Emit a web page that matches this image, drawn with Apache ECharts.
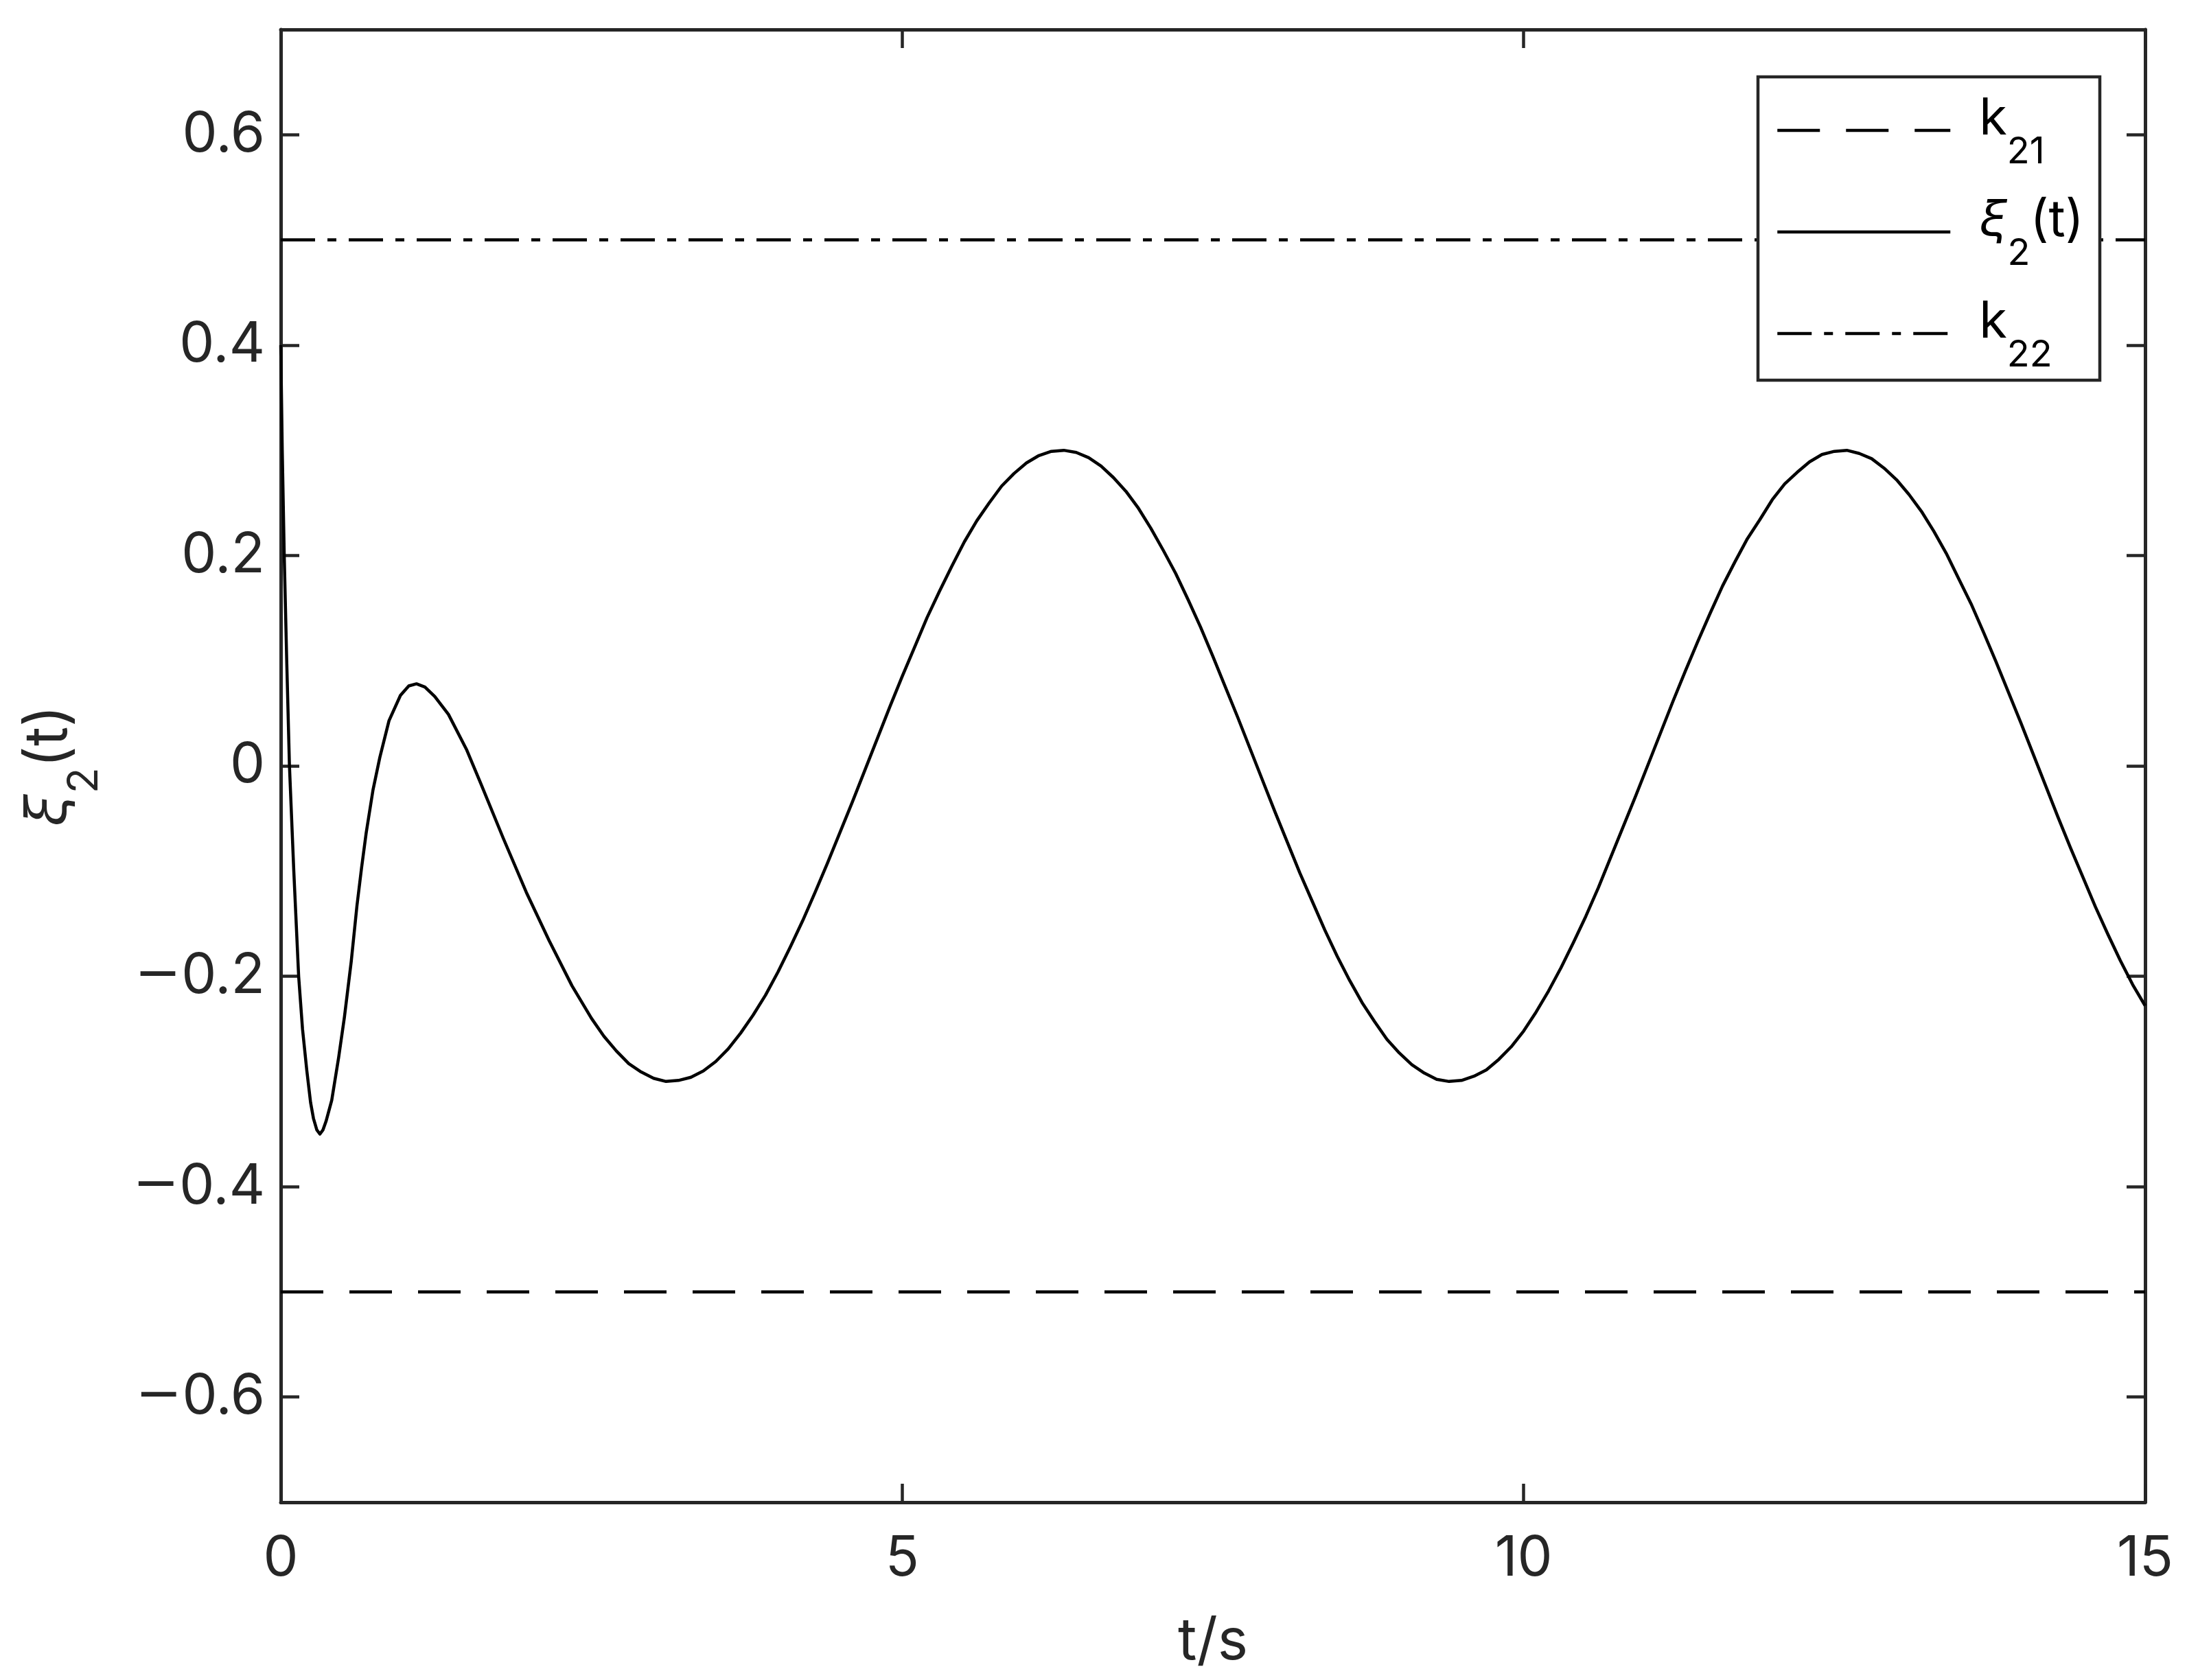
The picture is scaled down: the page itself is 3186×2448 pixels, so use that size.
<!DOCTYPE html>
<html>
<head>
<meta charset="utf-8">
<script src="https://cdn.jsdelivr.net/npm/echarts@6/dist/echarts.min.js"></script>
<style>html,body{margin:0;padding:0;background:#fff;}#c{width:3186px;height:2448px;}</style>
</head>
<body>
<div id="c"></div>
<script>
// ---- data ----
const tValues = [0, 0.012, 0.028, 0.048, 0.07, 0.105, 0.144, 0.175, 0.21, 0.24, 0.263, 0.29, 0.315, 0.34, 0.364, 0.41, 0.466, 0.512, 0.567, 0.613, 0.65, 0.687, 0.742, 0.797, 0.871, 0.963, 1.03, 1.092, 1.16, 1.239, 1.349, 1.497, 1.607, 1.791, 1.975, 2.159, 2.343, 2.5,
  2.6, 2.7, 2.8, 2.9, 3.0, 3.1, 3.2, 3.3, 3.4, 3.5, 3.6, 3.7, 3.8, 3.9, 4.0, 4.1, 4.2, 4.3, 4.4, 4.5, 4.6, 4.7, 4.8, 4.9,
  5.0, 5.1, 5.2, 5.3, 5.4, 5.5, 5.6, 5.7, 5.8, 5.9, 6.0, 6.1, 6.2, 6.3, 6.4, 6.5, 6.6, 6.7, 6.8, 6.9,
  7.0, 7.1, 7.2, 7.3, 7.4, 7.5, 7.6, 7.7, 7.8, 7.9, 8.0, 8.1, 8.2, 8.3, 8.4, 8.5, 8.6, 8.7, 8.8, 8.9,
  9.0, 9.1, 9.2, 9.3, 9.4, 9.5, 9.6, 9.7, 9.8, 9.9, 10.0, 10.1, 10.2, 10.3, 10.4, 10.5, 10.6, 10.7, 10.8, 10.9,
  11.0, 11.1, 11.2, 11.3, 11.4, 11.5, 11.6, 11.7, 11.8, 11.9, 12.0, 12.1, 12.2, 12.3, 12.4, 12.5, 12.6, 12.7, 12.8, 12.9,
  13.0, 13.1, 13.2, 13.3, 13.4, 13.5, 13.6, 13.7, 13.8, 13.9, 14.0, 14.1, 14.2, 14.3, 14.4, 14.5, 14.6, 14.7, 14.8, 14.9, 15.0];
const xiValues = [0.400, 0.30, 0.20, 0.10, 0.00, -0.10, -0.20, -0.25, -0.29, -0.32, -0.335, -0.346, -0.350, -0.346, -0.338, -0.318, -0.277, -0.239, -0.186, -0.133, -0.097, -0.064, -0.023, 0.008, 0.043, 0.067, 0.076, 0.078, 0.075, 0.066, 0.049, 0.015, -0.016, -0.069, -0.120, -0.166, -0.209, -0.240,
  -0.257, -0.271, -0.283, -0.291, -0.297, -0.300, -0.299, -0.296, -0.290, -0.281, -0.269, -0.254, -0.237, -0.218, -0.196, -0.172, -0.147, -0.120, -0.092, -0.063, -0.034, -0.004, 0.026, 0.056,
  0.085, 0.113, 0.141, 0.166, 0.190, 0.213, 0.233, 0.250, 0.266, 0.278, 0.288, 0.295, 0.299, 0.300, 0.298, 0.293, 0.285, 0.274, 0.261, 0.245,
  0.226, 0.205, 0.183, 0.158, 0.132, 0.104, 0.075, 0.046, 0.016, -0.014, -0.044, -0.073, -0.102, -0.129, -0.156, -0.181, -0.204, -0.225, -0.243, -0.260,
  -0.273, -0.284, -0.292, -0.298, -0.300, -0.299, -0.295, -0.289, -0.279, -0.267, -0.252, -0.234, -0.214, -0.192, -0.168, -0.143, -0.116, -0.087, -0.058, -0.029,
  0.001, 0.031, 0.061, 0.090, 0.118, 0.145, 0.171, 0.194, 0.216, 0.234, 0.253, 0.268, 0.279, 0.289, 0.296, 0.299, 0.300, 0.297, 0.292, 0.283,
  0.272, 0.258, 0.242, 0.223, 0.202, 0.178, 0.154, 0.127, 0.099, 0.070, 0.041, 0.011, -0.019, -0.049, -0.078, -0.106, -0.134, -0.160, -0.185, -0.208, -0.228];
const k21Value = -0.5;
const k22Value = 0.5;
const xRange = [0, 15];
const yRange = [-0.7, 0.7];
const xTicks = [0, 5, 10, 15];
const yTicks = [-0.6, -0.4, -0.2, 0, 0.2, 0.4, 0.6];
const seriesNames = ['k21', 'xi2', 'k22'];

// ---- styling ----
const FONT = 'Inter';
const AX = '#262626';
const LW = 4.5;
const DASH = [62, 38];
const DASHDOT = [50, 18, 13, 18];

function fmtY(v) {
  if (Math.abs(v) < 1e-9) return '0';
  const s = Math.abs(v).toFixed(1);
  return (v < 0 ? '{n|\u2212}' : '') + s;
}

const xiData = tValues.map((t, i) => [t, xiValues[i]]);

const chart = echarts.init(document.getElementById('c'), null, {renderer: 'canvas'});

const axisCommon = {
  axisLine: {show: true, onZero: false, lineStyle: {color: AX, width: 5}},
  axisTick: {show: true, inside: true, length: 27, lineStyle: {color: AX, width: 4.5}},
  splitLine: {show: false}
};

const legendRich = {
  m: {fontFamily: FONT, fontSize: 74, color: '#000', lineHeight: 78, padding: [0, 0, 38, 0], verticalAlign: 'bottom'},
  mi: {fontFamily: FONT, fontSize: 74, fontStyle: 'italic', color: '#000', lineHeight: 78, padding: [0, 0, 38, 0], verticalAlign: 'bottom'},
  s: {fontFamily: FONT, fontSize: 54, color: '#000', lineHeight: 58, verticalAlign: 'bottom'}
};

const option = {
  backgroundColor: '#fff',
  animation: false,
  grid: {left: 409, top: 43, width: 2716, height: 2146, containLabel: false},
  xAxis: [
    Object.assign({}, axisCommon, {
      type: 'value', position: 'bottom', min: xRange[0], max: xRange[1], interval: 5,
      axisTick: Object.assign({}, axisCommon.axisTick, {customValues: xTicks}),
      axisLabel: {show: true, customValues: xTicks, margin: 42, fontFamily: FONT, fontSize: 81, color: AX},
      name: 't/s', nameLocation: 'middle', nameGap: 162,
      nameTextStyle: {fontFamily: FONT, fontSize: 84, color: AX}
    }),
    Object.assign({}, axisCommon, {
      type: 'value', position: 'top', min: xRange[0], max: xRange[1], interval: 5,
      axisTick: Object.assign({}, axisCommon.axisTick, {customValues: xTicks}),
      axisLabel: {show: false}
    })
  ],
  yAxis: [
    Object.assign({}, axisCommon, {
      type: 'value', position: 'left', min: yRange[0], max: yRange[1],
      axisTick: Object.assign({}, axisCommon.axisTick, {customValues: yTicks}),
      axisLabel: {
        show: true, customValues: yTicks, margin: 23, fontFamily: FONT, fontSize: 81, color: AX, formatter: fmtY,
        rich: {n: {fontFamily: 'DejaVu Sans', fontSize: 81, color: AX}}
      },
      name: '{mi|\u03BE}{s|2}{m|(t)}', nameLocation: 'middle', nameGap: 255, nameRotate: 90,
      nameTextStyle: {
        fontFamily: FONT, fontSize: 86, color: AX,
        rich: {
          m: {fontFamily: FONT, fontSize: 86, color: AX, lineHeight: 90, padding: [0, 0, 40, 0], verticalAlign: 'bottom'},
          mi: {fontFamily: FONT, fontSize: 86, fontStyle: 'italic', color: AX, lineHeight: 90, padding: [0, 0, 40, 0], verticalAlign: 'bottom'},
          s: {fontFamily: FONT, fontSize: 62, color: AX, lineHeight: 66, verticalAlign: 'bottom'}
        }
      }
    }),
    Object.assign({}, axisCommon, {
      type: 'value', position: 'right', min: yRange[0], max: yRange[1],
      axisTick: Object.assign({}, axisCommon.axisTick, {customValues: yTicks}),
      axisLabel: {show: false}
    })
  ],
  legend: {
    show: true, orient: 'vertical', left: 2587, top: 137, padding: 0, z: 10,
    itemWidth: 252, itemHeight: 60, itemGap: 36,
    data: [
      {name: 'k21', itemStyle: {opacity: 0}, lineStyle: {color: '#000', width: LW, type: DASH, opacity: 1}},
      {name: 'xi2', itemStyle: {opacity: 0}, lineStyle: {color: '#000', width: LW, type: 'solid', opacity: 1}},
      {name: 'k22', itemStyle: {opacity: 0}, lineStyle: {color: '#000', width: LW, type: DASHDOT, opacity: 1}}
    ],
    formatter: function (name) {
      if (name === 'k21') return '{m|k}{s|21}';
      if (name === 'k22') return '{m|k}{s|22}';
      return '{mi|\u03BE}{s|2}{m|(t)}';
    },
    textStyle: {fontFamily: FONT, fontSize: 74, color: '#000', padding: [40, 0, 0, 37], rich: legendRich}
  },
  graphic: {
    elements: [{
      type: 'rect', z: 5, silent: true,
      shape: {x: 2561, y: 112, width: 498, height: 442},
      style: {fill: '#fff', stroke: AX, lineWidth: 4.5}
    }]
  },
  series: [
    {
      name: seriesNames[0], type: 'line', xAxisIndex: 0, yAxisIndex: 0, symbol: 'none', z: 2,
      data: [[xRange[0], k21Value], [xRange[1], k21Value]],
      lineStyle: {color: '#000', width: LW, type: DASH, cap: 'butt'},
      itemStyle: {color: '#000'}
    },
    {
      name: seriesNames[1], type: 'line', xAxisIndex: 0, yAxisIndex: 0, symbol: 'none', z: 2,
      smooth: false,
      data: xiData,
      lineStyle: {color: '#000', width: LW, type: 'solid', join: 'round'},
      itemStyle: {color: '#000'}
    },
    {
      name: seriesNames[2], type: 'line', xAxisIndex: 0, yAxisIndex: 0, symbol: 'none', z: 2,
      data: [[xRange[0], k22Value], [xRange[1], k22Value]],
      lineStyle: {color: '#000', width: LW, type: DASHDOT, cap: 'butt'},
      itemStyle: {color: '#000'}
    }
  ]
};
chart.setOption(option);
</script>
</body>
</html>
